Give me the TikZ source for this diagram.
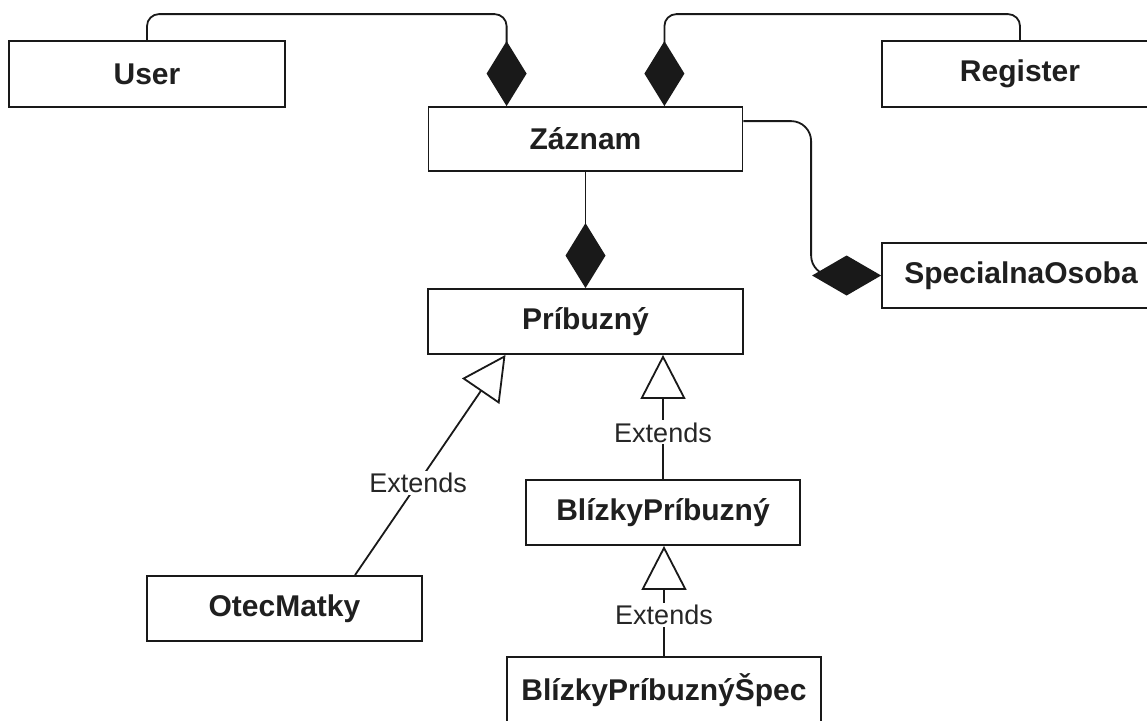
\documentclass[tikz,border=0pt]{standalone}
\usepackage{fontspec}
\setmainfont{Liberation Sans}
\usetikzlibrary{arrows.meta,calc}
\begin{document}
\begin{tikzpicture}[x=1pt,y=-1pt,
  cls/.style={draw=black!90, line width=1.8pt, fill=white, inner sep=0pt,
    font=\bfseries\fontsize{30}{36}\selectfont, text=black!88},
  link/.style={line width=1.8pt, draw=black!90},
  compo/.style={link, -{Diamond[length=65pt,width=40pt]}},
  gen/.style={link, -{Triangle[open,length=44pt,width=45pt,fill=white]}},
  lbl/.style={fill=white, inner sep=2pt, font=\fontsize{27}{32}\selectfont, text=black!85}]
\useasboundingbox (0,0) rectangle (1147,720);
\clip (0,0) rectangle (1147,720);
\fill[white] (0,0) rectangle (1147,720);

% classes
\node[cls, minimum width=276pt, minimum height=66pt] (user) at (147,74) {User};
\node[cls, minimum width=276pt, minimum height=66pt] (register) at (1020,74) {Register};
\node[cls, minimum width=314pt, minimum height=64pt] (zaznam) at (585.5,139) {Záznam};
\node[cls, minimum width=315pt, minimum height=65pt] (prib) at (585.5,321.5) {Príbuzný};
\node[cls, minimum width=278pt, minimum height=65pt] (special) at (1021,275.5) {SpecialnaOsoba};
\node[cls, minimum width=274pt, minimum height=65pt] (blizky) at (663,512.5) {BlízkyPríbuzný};
\node[cls, minimum width=275pt, minimum height=65pt] (otec) at (284.5,608.5) {OtecMatky};
\node[cls, minimum width=314pt, minimum height=66pt] (spec) at (664,689.7) {BlízkyPríbuznýŠpec};

% attachment points on the top of Záznam
\coordinate (zt1) at ($(zaznam.north west)+(79,0)$);
\coordinate (zt2) at ($(zaznam.north east)+(-79,0)$);

% compositions
\draw[compo, rounded corners=12pt] (user.north) -- ++(0,-26) -| (zt1);
\draw[compo, rounded corners=12pt] (register.north) -- ++(0,-26) -| (zt2);
\draw[compo] (zaznam.south) -- (prib.north);
\draw[link, -{Diamond[length=69pt,width=40pt]}, rounded corners=20pt]
  ($(zaznam.north east)+(0,15)$) -| ($(special.west)+(-70,0)$)
  [sharp corners] -- (special.west);

% generalizations
\draw[gen] ($(otec.north)+(70.5,0)$) -- ($(prib.south)+(-80,0)$)
  node[lbl, pos=0.42] {Extends};
\draw[gen] (blizky.north) -- (blizky.north |- prib.south)
  node[lbl, pos=0.376] {Extends};
\draw[gen] (spec.north) -- (spec.north |- blizky.south)
  node[lbl, pos=0.375] {Extends};
\end{tikzpicture}
\end{document}
